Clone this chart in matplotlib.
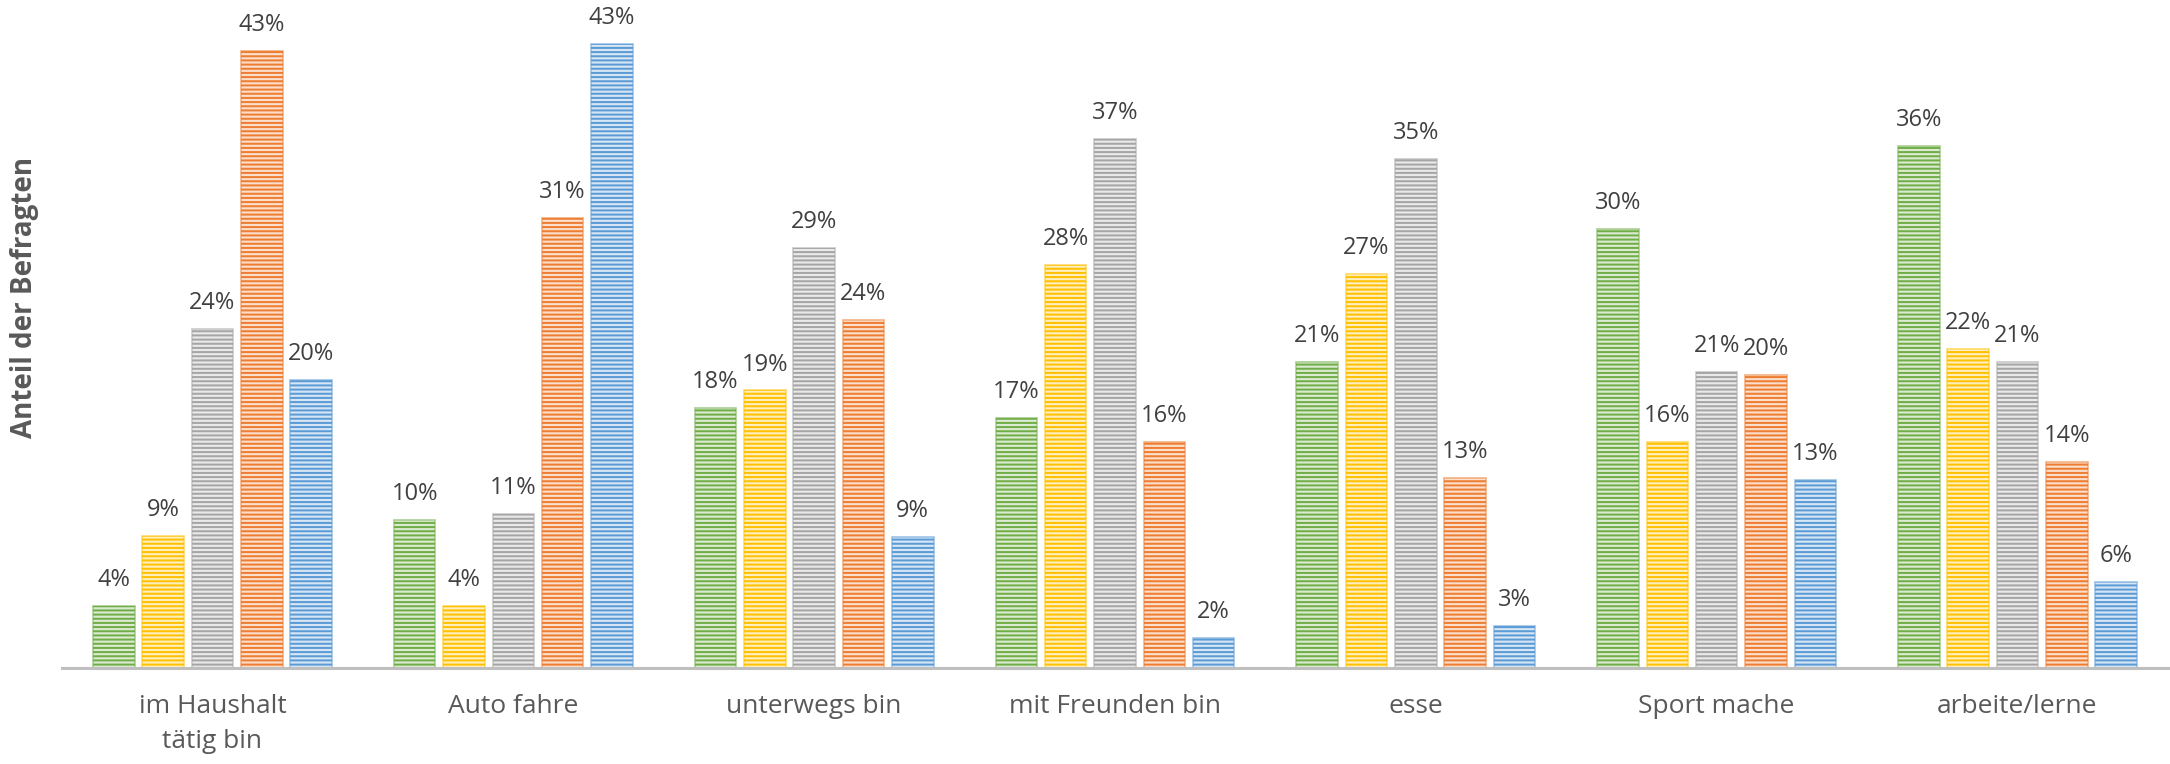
import matplotlib.pyplot as plt
import matplotlib.colors as mcolors
import numpy as np

plt.rcParams['font.family'] = ['Open Sans', 'DejaVu Sans']
plt.rcParams['hatch.linewidth'] = 1.45

categories = ['im Haushalt\ntätig bin', 'Auto fahre', 'unterwegs bin', 'mit Freunden bin',
              'esse', 'Sport mache', 'arbeite/lerne']

s_green = [4.3, 10.3, 18.1, 17.4, 21.3, 30.5, 36.3]
s_yellow = [9.2, 4.3, 19.3, 28.0, 27.4, 15.7, 22.2]
s_gray = [23.6, 10.7, 29.2, 36.8, 35.4, 20.6, 21.3]
s_orange = [42.9, 31.3, 24.2, 15.7, 13.2, 20.4, 14.3]
s_blue = [20.0, 43.4, 9.1, 2.1, 2.9, 13.1, 6.0]

series = [s_green, s_yellow, s_gray, s_orange, s_blue]
colors = ['#70AD47', '#FFC000', '#A5A5A5', '#ED7D31', '#5B9BD5']


def tint(c, amt):
    r = np.array(mcolors.to_rgb(c))
    return tuple(r + (1 - r) * amt)


fig = plt.figure(figsize=(21.7, 7.64), dpi=100)
ax = fig.add_axes([0.0286, 0.1257, 0.9704, 0.847])

x = np.arange(len(categories))
step = 0.164
w = 0.138
for i, (vals, c) in enumerate(zip(series, colors)):
    pos = x + (i - 2) * step
    ax.bar(pos, vals, w, color=tint(c, 0.75), edgecolor=tint(c, 0.4), linewidth=1.2)
    ax.bar(pos, vals, w, fill=False, edgecolor=c, linewidth=0, hatch='----')
    for p, v in zip(pos, vals):
        ax.annotate(f'{round(v)}%', (p, v), xytext=(0, 10), textcoords='offset points',
                    ha='center', va='bottom', fontsize=17, color='#404040')

ax.set_xlim(-0.5, len(categories) - 0.5)
ax.set_ylim(0, 45)
ax.set_yticks([])
ax.set_xticks(x)
ax.set_xticklabels(categories, fontsize=19, color='#595959', linespacing=1.5)
ax.tick_params(axis='x', length=0, pad=19)
for s in ['top', 'right', 'left']:
    ax.spines[s].set_visible(False)
ax.spines['bottom'].set_color('#BFBFBF')
ax.spines['bottom'].set_linewidth(2.2)

fig.text(0.0115, 1 - 297 / 764, 'Anteil der Befragten', rotation=90, ha='center', va='center',
         fontsize=20, fontweight='bold', color='#595959')

fig.savefig('out.png', dpi=100)
